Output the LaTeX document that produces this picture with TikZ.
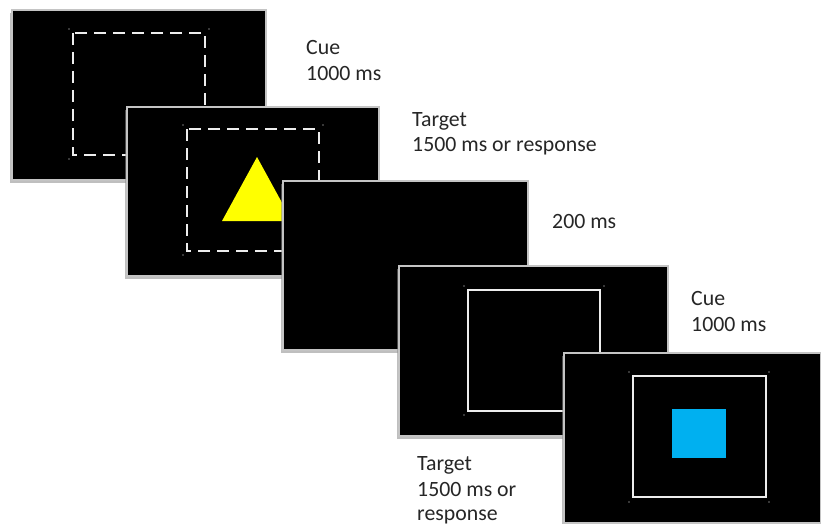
\documentclass[tikz,border=0pt]{standalone}
\usepackage{fontspec}
\setmainfont{Carlito}
\definecolor{cyanbox}{HTML}{00B0F0}
\definecolor{tri}{HTML}{FFFF00}
\definecolor{frame}{HTML}{C4C4C4}
\definecolor{lineW}{HTML}{EDEDED}
\begin{document}
\begin{tikzpicture}[x=1pt,y=-1pt,
  panelbox/.style={fill=black, draw=frame, line width=1.3pt},
  panelshadow/.style={fill=black!45, opacity=0.55},
  dashsq/.style={draw=lineW, line width=2.8pt, dash pattern=on 12pt off 7pt},
  solidsq/.style={draw=lineW, line width=2.7pt},
  handle/.style={fill=black!55, draw=none},
  lbl/.style={anchor=base west, inner sep=0pt, font=\fontsize{21.8}{26}\selectfont, text=black!85}]
\useasboundingbox (0,0) rectangle (821,524);
\fill[white] (0,0) rectangle (821,524);

% panel 1
\fill[panelshadow] (10,13) rectangle (264,183);
\draw[panelbox] (12,10) rectangle (266,180);
\draw[dashsq] (73,33) rectangle (205,155);
\foreach \p in {(69,29),(209,29),(69,159),(209,159)} \fill[handle] \p circle (0.8);

% panel 2
\fill[panelshadow] (125,110) rectangle (377,279);
\draw[panelbox] (127,107) rectangle (379,276);
\draw[dashsq] (187,129) rectangle (319,251);
\foreach \p in {(183,125),(323,125),(183,255),(323,255)} \fill[handle] \p circle (0.8);
\fill[tri] (257,157) -- (292,221) -- (222,221) -- cycle;

% panel 3
\fill[panelshadow] (281,184) rectangle (526,353);
\draw[panelbox] (283,181) rectangle (528,350);

% panel 4
\fill[panelshadow] (397,269) rectangle (666,439);
\draw[panelbox] (399,266) rectangle (668,436);
\draw[solidsq] (468,290) rectangle (600,411);
\foreach \p in {(464,286),(604,286),(464,415),(604,415)} \fill[handle] \p circle (0.8);

% panel 5
\fill[panelshadow] (562,356) rectangle (818,526);
\draw[panelbox] (564,353) rectangle (821,523);
\draw[solidsq] (633,376) rectangle (766,497);
\foreach \p in {(629,372),(769,372),(629,502),(769,502)} \fill[handle] \p circle (0.8);
\fill[cyanbox] (672,409) rectangle (726,458);

% labels
\node[lbl] (cue1) at (306,55) {Cue};
\node[lbl] (cue1t) at (306,81) {1000 ms};
\node[lbl] (tg1) at (412,126) {Target};
\node[lbl] (tg1t) at (412,151) {1500 ms or response};
\node[lbl] (isi) at (552,228) {200 ms};
\node[lbl] (cue2) at (691,305) {Cue};
\node[lbl] (cue2t) at (691,331) {1000 ms};
\node[lbl] (tg2) at (417,470) {Target};
\node[lbl] (tg2a) at (417,496) {1500 ms or};
\node[lbl] (tg2b) at (417,520) {response};
\end{tikzpicture}
\end{document}
